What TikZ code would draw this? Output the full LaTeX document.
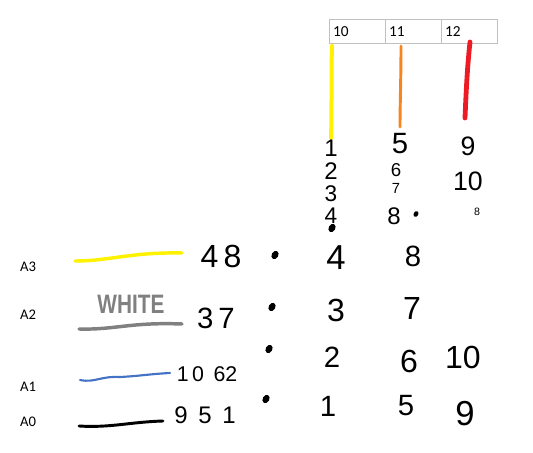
\documentclass[tikz,border=0pt]{standalone}
\usepackage{fontspec}
\setmainfont{Carlito}
\newfontfamily\handfont{Liberation Sans}
\usetikzlibrary{positioning, shapes.geometric}
\definecolor{penyellow}{HTML}{FFF200}
\definecolor{penorange}{HTML}{F7851F}
\definecolor{penred}{HTML}{ED1C24}
\definecolor{pengray}{HTML}{808080}
\definecolor{penblue}{HTML}{4472C4}
\definecolor{cellgray}{HTML}{C0C0C0}

\begin{document}
\begin{tikzpicture}[x=0.75pt, y=-0.75pt,
    cell/.style={draw=cellgray, line width=0.75pt, outer sep=0pt, inner xsep=3pt,
      minimum width=42pt, minimum height=18pt, text width=36pt, align=left,
      font=\fontsize{11.5}{13}\selectfont},
    rowlabel/.style={font=\fontsize{11}{13}\selectfont, inner sep=0pt},
    hand/.style={font=\handfont\fontsize{#1}{#1}\selectfont, inner sep=0pt},
    dotmark/.style={fill=black, ellipse, rotate=-30, minimum width=5pt, minimum height=6.5pt, inner sep=0pt},
    stroke/.style={line cap=round, line join=round}]
  \useasboundingbox (0,0) rectangle (533,453);

  \node[cell, anchor=north west] (c10) at (329,20) {10};
  \node[cell, right=0pt of c10] (c11) {11};
  \node[cell, right=0pt of c11] (c12) {12};

  \draw[stroke, penyellow, line width=3pt] (332,46) .. controls (331,80) and (332,110) .. (331,138);
  \draw[stroke, penorange, line width=2.2pt] (401,46) .. controls (401,80) and (400,105) .. (400,127);
  \draw[stroke, penred, line width=3.6pt] (470,42) .. controls (467,70) and (466,95) .. (465,118);

  \node[hand=18] (t1) at (331,148) {1};
  \node[hand=18] (t2) at (331,171) {2};
  \node[hand=17] (t3) at (331,194) {3};
  \node[hand=17] (t4) at (331,216) {4};
  \node[hand=22] (t5) at (400,144) {5};
  \node[hand=14] (t6) at (396,170) {6};
  \node[hand=11] (t7) at (396,188) {7};
  \node[hand=18] (t8) at (394,216) {8};
  \node[hand=20] (t9) at (468,146) {9};
  \node[hand=20] (t10) at (468,181) {10};
  \node[dotmark] (td4) at (332,228) {};
  \node[dotmark, minimum width=3.5pt, minimum height=4.5pt] (td8) at (416,214) {};
  \node[hand=8] (td12) at (477,212) {8};

  \node[rowlabel] (a3) at (28,267) {A3};
  \node[rowlabel] (a2) at (28,315) {A2};
  \node[rowlabel] (a1) at (28,387) {A1};
  \node[rowlabel] (a0) at (28,422) {A0};

  \draw[stroke, penyellow, line width=2.6pt] (75,261) .. controls (110,261) and (130,252) .. (182,253);
  \draw[stroke, pengray, line width=2.6pt] (79,329) .. controls (115,330) and (130,322) .. (182,324);
  \draw[stroke, penblue, line width=1.6pt] (80,380) .. controls (95,383) and (100,376) .. (120,377)
    .. controls (140,376) and (150,374) .. (170,373);
  \draw[stroke, black, line width=2.2pt] (79,426) .. controls (110,428) and (130,422) .. (163,421);
  \node[hand=20, pengray, xscale=0.78] (white) at (131,304) {\bfseries WHITE};

  \node[hand=24] (v48) at (221,256) {4\,8};
  \node[hand=22] (v37) at (216,318) {3\,7};
  \node[hand=16] (v1062) at (207,374) {1\,0\;\,62};
  \node[hand=18] (v951) at (205,415) {9\;\,5\;\,1};

  \node[dotmark] (d3) at (275,255) {};
  \node[dotmark] (d2) at (272,307) {};
  \node[dotmark] (d1) at (269,349) {};
  \node[dotmark] (d0) at (266,399) {};

  \node[hand=26] (g4) at (336,258) {4};
  \node[hand=22] (g8) at (413,256) {8};
  \node[hand=24] (g3) at (336,310) {3};
  \node[hand=24] (g7) at (412,308) {7};
  \node[hand=22] (g2) at (332,357) {2};
  \node[hand=24] (g6) at (409,361) {6};
  \node[hand=24] (g10) at (463,357) {10};
  \node[hand=22] (g1) at (328,406) {1};
  \node[hand=22] (g5) at (406,406) {5};
  \node[hand=26] (g9) at (465,414) {9};
\end{tikzpicture}
\end{document}
